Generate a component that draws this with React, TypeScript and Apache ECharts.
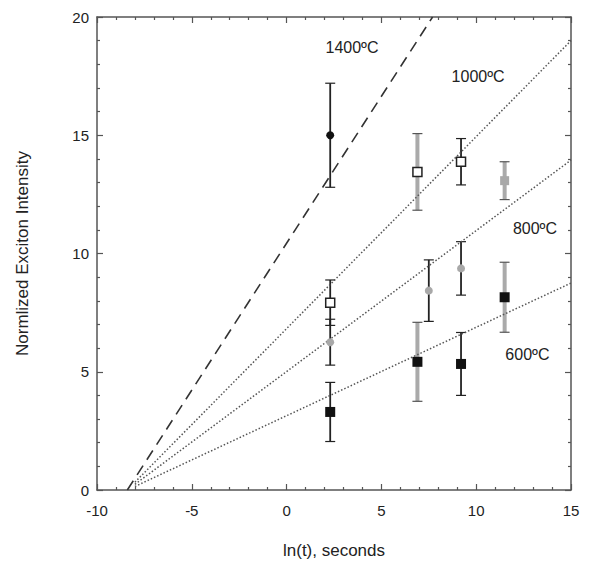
import React, { useEffect, useRef } from "react";
import * as echarts from "echarts";

// Fit lines: [x, y] endpoints
const line1400 = [[-8.4, 0], [7.7, 20]];
const line1000 = [[-8.0, 0.33], [15, 19.0]];
const line800 = [[-8.0, 0.24], [15, 13.95]];
const line600 = [[-8.0, 0.15], [15, 8.75]];

// Points: [x, y, errorHalfWidth, barColorKey]
const pts1400 = [[2.3, 15.0, 2.2, 0]];
const pts1000 = [[2.3, 7.92, 0.96, 0], [6.9, 13.45, 1.62, 1], [9.2, 13.88, 0.98, 0]];
const pts800 = [[2.3, 6.25, 0.97, 0], [7.5, 8.43, 1.3, 0], [9.2, 9.37, 1.13, 0]];
const pts800b = [[11.5, 13.08, 0.8, 1]];
const pts600 = [[2.3, 3.3, 1.25, 0], [6.9, 5.42, 1.67, 1], [9.2, 5.33, 1.33, 0], [11.5, 8.15, 1.48, 1]];

const labels = [
  { name: "1400ºC", value: [3.45, 18.69] },
  { name: "1000ºC", value: [10.1, 17.5] },
  { name: "800ºC", value: [13.1, 11.04] },
  { name: "600ºC", value: [12.7, 5.71] },
];

const BAR_COLORS = ["#222", "#aaaaaa"];
const FONT = "Liberation Sans, Arial, sans-serif";
const TXT = "#222";

export default function App() {
  const ref = useRef<HTMLDivElement>(null);
  useEffect(() => {
    document.body.style.margin = "0";
    const chart = echarts.init(ref.current!, null, { renderer: "svg" });
    const allPts = [...pts1400, ...pts1000, ...pts800, ...pts800b, ...pts600];
    const errData = allPts.map((p) => [p[0], p[1] - p[2], p[1] + p[2], p[3]]);
    const axisLine = { show: true, onZero: false, lineStyle: { color: "#555", width: 1.5 } };
    const axisTick = { show: true, inside: true, length: 6, lineStyle: { color: "#555", width: 1.2 } };
    const minorTick = { show: true, splitNumber: 5, length: 3, lineStyle: { color: "#555", width: 1.2 } };
    const option: any = {
      animation: false,
      backgroundColor: "#fff",
      grid: { left: 97, right: 21, top: 17, bottom: 76 },
      xAxis: [
        {
          type: "value", min: -10, max: 15, interval: 5, position: "bottom",
          axisLine, axisTick, minorTick, splitLine: { show: false },
          axisLabel: { color: TXT, fontSize: 15, fontFamily: FONT, margin: 13 },
          name: "ln(t), seconds", nameLocation: "middle", nameGap: 52,
          nameTextStyle: { color: TXT, fontSize: 17, fontFamily: FONT },
        },
        {
          type: "value", min: -10, max: 15, interval: 5, position: "top",
          axisLine, axisTick, minorTick, splitLine: { show: false },
          axisLabel: { show: false },
        },
      ],
      yAxis: [
        {
          type: "value", min: 0, max: 20, interval: 5, position: "left",
          axisLine, axisTick, minorTick, splitLine: { show: false },
          axisLabel: { color: TXT, fontSize: 15, fontFamily: FONT, margin: 8 },
          name: "Normlized Exciton Intensity", nameLocation: "middle", nameGap: 66,
          nameTextStyle: { color: TXT, fontSize: 17, fontFamily: FONT },
        },
        {
          type: "value", min: 0, max: 20, interval: 5, position: "right",
          axisLine, axisTick, minorTick, splitLine: { show: false },
          axisLabel: { show: false },
        },
      ],
      series: [
        {
          type: "line", data: line1400, symbol: "none",
          lineStyle: { color: "#333", width: 1.6, type: [11, 7] },
        },
        ...[line1000, line800, line600].map((d) => ({
          type: "line", data: d, symbol: "none",
          lineStyle: { color: "#555", width: 1.5, type: [1.5, 2] },
        })),
        {
          type: "custom",
          data: errData,
          renderItem: (params: any, api: any) => {
            const x = api.value(0);
            const lo = api.coord([x, api.value(1)]);
            const hi = api.coord([x, api.value(2)]);
            const key = api.value(3);
            const color = BAR_COLORS[key];
            const w = key === 1 ? 4 : 1.8;
            const cap = 5;
            const capColor = key === 1 ? "#555" : "#222";
            return {
              type: "group",
              children: [
                { type: "line", shape: { x1: lo[0], y1: lo[1], x2: hi[0], y2: hi[1] }, style: { stroke: color, lineWidth: w } },
                { type: "line", shape: { x1: lo[0] - cap, y1: lo[1], x2: lo[0] + cap, y2: lo[1] }, style: { stroke: capColor, lineWidth: 1.2 } },
                { type: "line", shape: { x1: hi[0] - cap, y1: hi[1], x2: hi[0] + cap, y2: hi[1] }, style: { stroke: capColor, lineWidth: 1.2 } },
              ],
            };
          },
          z: 3,
        },
        {
          type: "scatter", data: pts1400.map((p) => [p[0], p[1]]), symbol: "circle", symbolSize: 8,
          itemStyle: { color: "#111", opacity: 1 }, z: 5,
        },
        {
          type: "scatter", data: pts1000.map((p) => [p[0], p[1]]), symbol: "rect", symbolSize: 9,
          itemStyle: { color: "#fff", borderColor: "#222", borderWidth: 1.5, opacity: 1 }, z: 5,
        },
        {
          type: "scatter", data: pts800.map((p) => [p[0], p[1]]), symbol: "circle", symbolSize: 8,
          itemStyle: { color: "#a8a8a8", opacity: 1 }, z: 5,
        },
        {
          type: "scatter", data: pts800b.map((p) => [p[0], p[1]]), symbol: "rect", symbolSize: 9,
          itemStyle: { color: "#a8a8a8", opacity: 1 }, z: 5,
        },
        {
          type: "scatter", data: pts600.map((p) => [p[0], p[1]]), symbol: "rect", symbolSize: 10,
          itemStyle: { color: "#111", opacity: 1 }, z: 5,
        },
        {
          type: "scatter", data: labels, symbolSize: 0, z: 6,
          itemStyle: { opacity: 1 },
          label: {
            show: true, position: "inside", formatter: (p: any) => p.name,
            color: TXT, fontSize: 16, fontFamily: FONT,
          },
        },
      ],
    };
    chart.setOption(option);
    return () => chart.dispose();
  }, []);
  return <div ref={ref} style={{ width: 592, height: 566 }} />;
}
